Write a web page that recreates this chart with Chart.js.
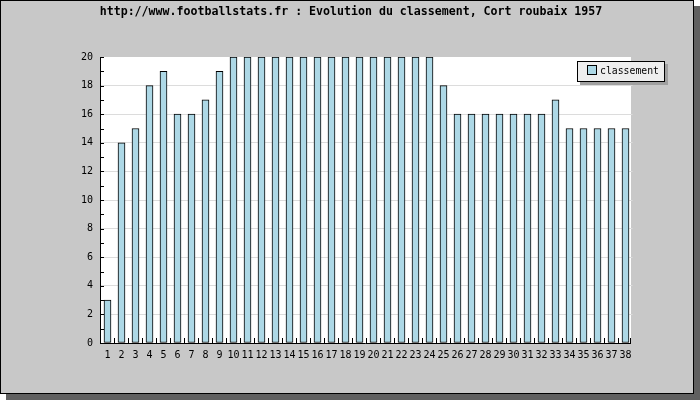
<!DOCTYPE html>
<html>
<head>
<meta charset="utf-8">
<script src="https://cdn.jsdelivr.net/npm/chart.js@4.4.1/dist/chart.umd.min.js"></script>
<style>
html,body{margin:0;padding:0;background:#fff;}
canvas{display:block;}
</style>
</head>
<body>
<canvas id="c" width="700" height="400"></canvas>
<script>
const titleText = "http://www.footballstats.fr : Evolution du classement, Cort roubaix 1957";
const seriesName = "classement";
const categories = ["1","2","3","4","5","6","7","8","9","10","11","12","13","14","15","16","17","18","19","20","21","22","23","24","25","26","27","28","29","30","31","32","33","34","35","36","37","38"];
const classement = [3,14,15,18,19,16,16,17,19,20,20,20,20,20,20,20,20,20,20,20,20,20,20,20,18,16,16,16,16,16,16,16,17,15,15,15,15,15];
const yTickLabels = ["0","2","4","6","8","10","12","14","16","18","20"];

const MONO = '"DejaVu Sans Mono", "Liberation Mono", monospace';
const PLOT_L = 100, PLOT_R = 631;

const deco = {
  id: 'deco',
  beforeDraw(chart) {
    const ctx = chart.ctx;
    const a = chart.chartArea;
    ctx.save();
    ctx.fillStyle = '#606060';
    ctx.fillRect(6, 6, 694, 394);
    ctx.fillStyle = '#c8c8c8';
    ctx.fillRect(0, 0, 694, 394);
    ctx.strokeStyle = '#000';
    ctx.lineWidth = 1;
    ctx.strokeRect(0.5, 0.5, 693, 393);
    ctx.fillStyle = '#ffffff';
    ctx.fillRect(PLOT_L, a.top, PLOT_R - PLOT_L, a.bottom - a.top);
    ctx.fillStyle = '#000';
    ctx.font = 'bold 11.6px ' + MONO;
    ctx.textAlign = 'center';
    ctx.textBaseline = 'middle';
    ctx.fillText(titleText, 351, 12);
    ctx.restore();
  },
  afterDraw(chart) {
    const ctx = chart.ctx;
    const a = chart.chartArea;
    const y = chart.scales.y;
    const x = chart.scales.x;
    ctx.save();
    ctx.strokeStyle = '#000';
    ctx.lineWidth = 1;
    ctx.beginPath();
    // axes
    ctx.moveTo(PLOT_L + 0.5, a.top);
    ctx.lineTo(PLOT_L + 0.5, a.bottom + 1);
    ctx.moveTo(PLOT_L, a.bottom + 0.5);
    ctx.lineTo(PLOT_R, a.bottom + 0.5);
    // y inner ticks (major + minor)
    for (let v = 0; v <= 20; v++) {
      const py = Math.round(y.getPixelForValue(v)) + 0.5;
      ctx.moveTo(PLOT_L, py);
      ctx.lineTo(PLOT_L + 4, py);
    }
    // x inner ticks at category boundaries
    const n = categories.length;
    for (let i = 1; i <= n; i++) {
      let px;
      if (i === n) px = PLOT_R - 1;
      else px = (x.getPixelForTick(i - 1) + x.getPixelForTick(i)) / 2 - 0.5;
      px = Math.round(px) + 0.5;
      ctx.moveTo(px, a.bottom);
      ctx.lineTo(px, a.bottom - 5);
    }
    ctx.stroke();
    // legend
    const lx = 577, ly = 61, lw = 88, lh = 21;
    ctx.fillStyle = '#a0a0a0';
    ctx.fillRect(lx + 3, ly + 3, lw, lh);
    ctx.fillStyle = '#eeeeee';
    ctx.fillRect(lx, ly, lw, lh);
    ctx.strokeRect(lx + 0.5, ly + 0.5, lw - 1, lh - 1);
    ctx.fillStyle = '#add8e6';
    ctx.fillRect(587, 65, 10, 10);
    ctx.strokeRect(587.5, 65.5, 9, 9);
    ctx.fillStyle = '#000';
    ctx.font = '9.8px ' + MONO;
    ctx.textAlign = 'left';
    ctx.textBaseline = 'middle';
    ctx.fillText(seriesName, 600, 71);
    ctx.restore();
  }
};

new Chart(document.getElementById('c'), {
  type: 'bar',
  data: {
    labels: categories,
    datasets: [{
      label: seriesName,
      data: classement,
      backgroundColor: '#add8e6',
      borderColor: '#000000',
      borderWidth: 1,
      borderSkipped: false,
      barThickness: 7
    }]
  },
  options: {
    responsive: false,
    animation: false,
    devicePixelRatio: 1,
    layout: { padding: { left: 0, top: 57, right: 67.5, bottom: 0 } },
    plugins: {
      legend: { display: false },
      title: { display: false },
      tooltip: { enabled: false }
    },
    scales: {
      x: {
        afterFit(s) { s.height = 57; },
        grid: { display: false, drawTicks: false },
        border: { display: false },
        ticks: {
          autoSkip: false, maxRotation: 0, minRotation: 0,
          padding: 6,
          color: '#000',
          font: { family: MONO, size: 10 }
        }
      },
      y: {
        min: 0, max: 20,
        afterFit(s) { s.width = 100.5; },
        grid: {
          drawTicks: false,
          color(c) { return (c.tick && c.tick.value % 2 === 0 && c.tick.value !== 0 && c.tick.value !== 20) ? '#dcdcdc' : 'rgba(0,0,0,0)'; }
        },
        border: { display: false },
        ticks: {
          stepSize: 1,
          padding: 7.5,
          color: '#000',
          font: { family: MONO, size: 10 },
          callback(v) { return v % 2 === 0 ? yTickLabels[v / 2] : ''; }
        }
      }
    }
  },
  plugins: [deco]
});
</script>
</body>
</html>
